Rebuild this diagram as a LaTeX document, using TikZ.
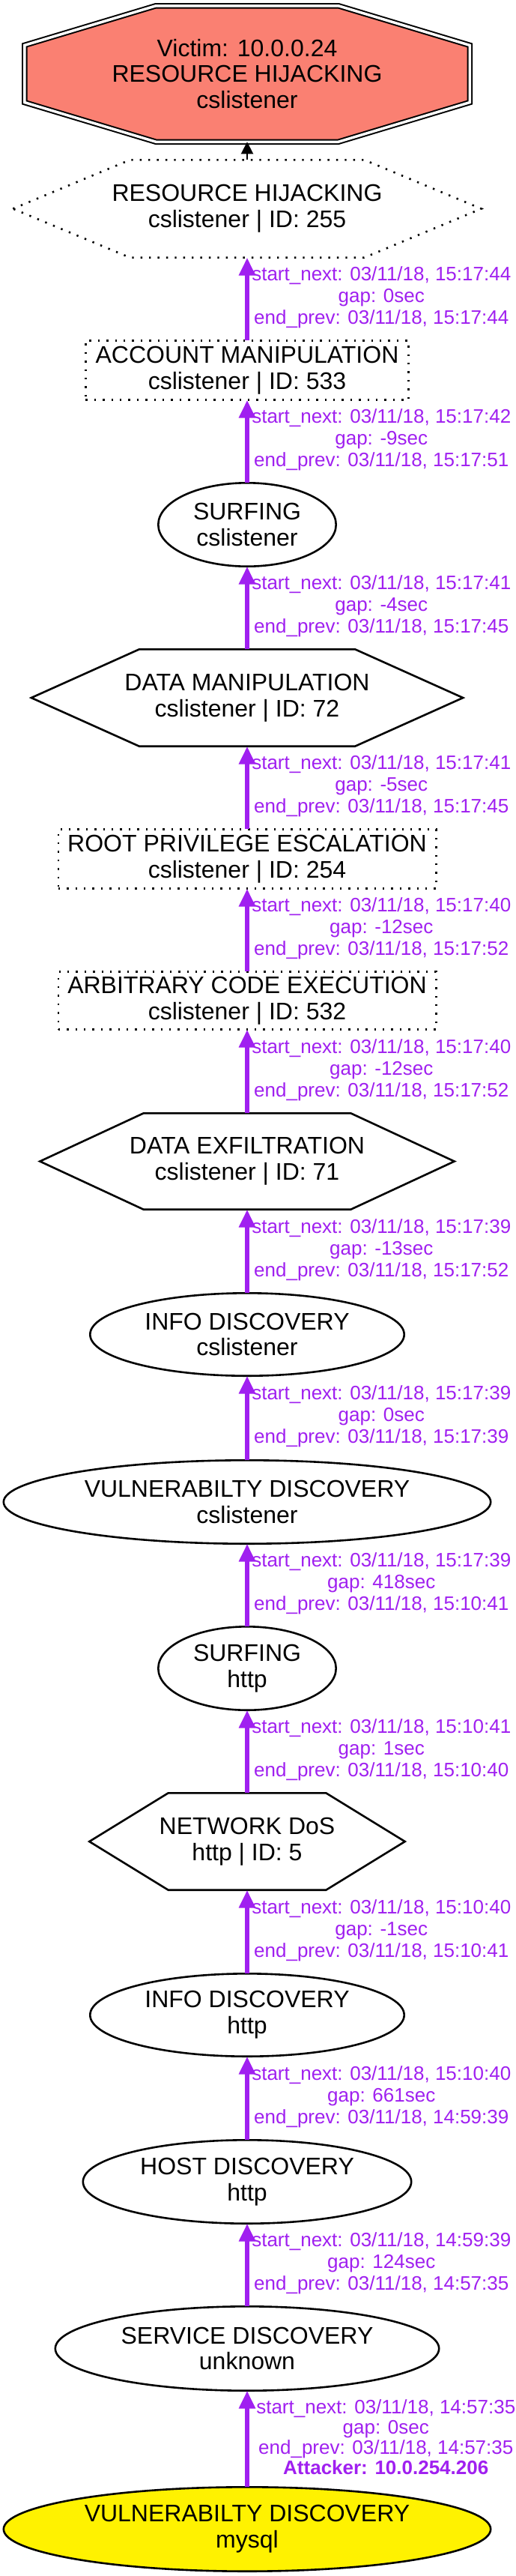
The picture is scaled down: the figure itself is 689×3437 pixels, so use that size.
\documentclass[tikz,border=0pt]{standalone}
\usepackage{fontspec}
\setmainfont{Liberation Sans}
\usetikzlibrary{shapes.geometric,arrows.meta,calc,backgrounds}
\definecolor{edgepurple}{HTML}{A020F0}
\definecolor{victimfill}{HTML}{FA8072}
\newcommand{\drawhexagon}[2][]{\draw[hexline,#1] (#2.west) -- ($(#2.north west)!0.25!(#2.north east)$) -- ($(#2.north west)!0.75!(#2.north east)$) -- (#2.east) -- ($(#2.south west)!0.75!(#2.south east)$) -- ($(#2.south west)!0.25!(#2.south east)$) -- cycle;}
\begin{document}
\begin{tikzpicture}[x=0.5pt,y=-0.5pt,
  base/.style={inner sep=0pt, outer sep=0pt, align=center, font=\fontsize{16}{17.4}\selectfont},
  ell/.style={base, ellipse, draw, line width=1.3pt},
  box/.style={base, rectangle, draw, line width=1.3pt, dash pattern=on 1.2pt off 4.5pt},
  hexnode/.style={base, rectangle},
  hexline/.style={line width=1.3pt, line join=miter},
  dotline/.style={dash pattern=on 1.2pt off 4.5pt},
  victimline/.style={fill=victimfill, draw=black, line width=1pt, double=white, double distance=1.75pt},
  pedge/.style={draw=edgepurple, line width=3.3pt, -{Triangle[length=12pt,width=10.5pt]}},
  bedge/.style={draw=black, line width=1pt, -{Triangle[length=8pt,width=8pt]}},
  elabel/.style={anchor=west, inner sep=0pt, xshift=1.5pt, yshift=1pt, align=center, text=edgepurple, font=\fontsize{13}{14.5}\selectfont},
  alabel/.style={elabel, xshift=3pt, font=\fontsize{13}{13.5}\selectfont},
]
\useasboundingbox (0,0) rectangle (689,3437);

% victim
\node[base, rectangle, minimum width=297.25pt, minimum height=90.75pt] (victim) at (330,98.5) {Victim: 10.0.0.24\\RESOURCE HIJACKING\\cslistener};
\begin{scope}[on background layer]
\fill[white] (0,0) rectangle (689,3437);
\draw[victimline] ($(victim.north west)!0.295!(victim.north east)$) -- ($(victim.north west)!0.705!(victim.north east)$) -- ($(victim.north east)!0.29!(victim.south east)$) -- ($(victim.north east)!0.71!(victim.south east)$) -- ($(victim.south west)!0.705!(victim.south east)$) -- ($(victim.south west)!0.295!(victim.south east)$) -- ($(victim.north west)!0.71!(victim.south west)$) -- ($(victim.north west)!0.29!(victim.south west)$) -- cycle;
\end{scope}

% nodes
\node[hexnode, minimum width=312.7pt, minimum height=65.2pt] (rh) at (330,278.5) {RESOURCE HIJACKING\\cslistener | ID: 255};
\drawhexagon[dotline]{rh}
\node[box, minimum width=215.7pt, minimum height=39.7pt] (am) at (330,494) {ACCOUNT MANIPULATION\\cslistener | ID: 533};
\node[ell, minimum width=118.7pt, minimum height=55.7pt] (surfcs) at (330,700) {SURFING\\cslistener};
\node[hexnode, minimum width=288.2pt, minimum height=64.7pt] (dm) at (330,931) {DATA MANIPULATION\\cslistener | ID: 72};
\drawhexagon{dm}
\node[box, minimum width=252.2pt, minimum height=39.7pt] (rpe) at (330,1146) {ROOT PRIVILEGE ESCALATION\\cslistener | ID: 254};
\node[box, minimum width=252.2pt, minimum height=38.7pt] (ace) at (330,1335) {ARBITRARY CODE EXECUTION\\cslistener | ID: 532};
\node[hexnode, minimum width=276.7pt, minimum height=64.2pt] (de) at (330,1549.5) {DATA EXFILTRATION\\cslistener | ID: 71};
\drawhexagon{de}
\node[ell, minimum width=209.7pt, minimum height=55.2pt] (idcs) at (330,1780.5) {INFO DISCOVERY\\cslistener};
\node[ell, minimum width=325.2pt, minimum height=55.7pt] (vdcs) at (330,2004) {VULNERABILTY DISCOVERY\\cslistener};
\node[ell, minimum width=118.7pt, minimum height=55.7pt] (surfh) at (330,2226) {SURFING\\http};
\node[hexnode, minimum width=210.7pt, minimum height=64.7pt] (ndos) at (330,2457) {NETWORK DoS\\http | ID: 5};
\drawhexagon{ndos}
\node[ell, minimum width=209.7pt, minimum height=55.2pt] (idh) at (330,2688.5) {INFO DISCOVERY\\http};
\node[ell, minimum width=219.2pt, minimum height=55.7pt] (hd) at (330,2911) {HOST DISCOVERY\\http};
\node[ell, minimum width=256.2pt, minimum height=56.2pt] (sd) at (330,3133.5) {SERVICE DISCOVERY\\unknown};
\node[ell, fill=yellow, minimum width=325.2pt, minimum height=56.2pt] (vdm) at (330,3374.5) {VULNERABILTY DISCOVERY\\mysql};

% edges
\draw[bedge] (rh.north) -- (victim.south);
\draw[pedge] (am.north) -- node[elabel] {start\_next: 03/11/18, 15:17:44\\gap: 0sec\\end\_prev: 03/11/18, 15:17:44} (rh.south);
\draw[pedge] (surfcs.north) -- node[elabel] {start\_next: 03/11/18, 15:17:42\\gap: -9sec\\end\_prev: 03/11/18, 15:17:51} (am.south);
\draw[pedge] (dm.north) -- node[elabel] {start\_next: 03/11/18, 15:17:41\\gap: -4sec\\end\_prev: 03/11/18, 15:17:45} (surfcs.south);
\draw[pedge] (rpe.north) -- node[elabel] {start\_next: 03/11/18, 15:17:41\\gap: -5sec\\end\_prev: 03/11/18, 15:17:45} (dm.south);
\draw[pedge] (ace.north) -- node[elabel] {start\_next: 03/11/18, 15:17:40\\gap: -12sec\\end\_prev: 03/11/18, 15:17:52} (rpe.south);
\draw[pedge] (de.north) -- node[elabel] {start\_next: 03/11/18, 15:17:40\\gap: -12sec\\end\_prev: 03/11/18, 15:17:52} (ace.south);
\draw[pedge] (idcs.north) -- node[elabel] {start\_next: 03/11/18, 15:17:39\\gap: -13sec\\end\_prev: 03/11/18, 15:17:52} (de.south);
\draw[pedge] (vdcs.north) -- node[elabel] {start\_next: 03/11/18, 15:17:39\\gap: 0sec\\end\_prev: 03/11/18, 15:17:39} (idcs.south);
\draw[pedge] (surfh.north) -- node[elabel] {start\_next: 03/11/18, 15:17:39\\gap: 418sec\\end\_prev: 03/11/18, 15:10:41} (vdcs.south);
\draw[pedge] (ndos.north) -- node[elabel] {start\_next: 03/11/18, 15:10:41\\gap: 1sec\\end\_prev: 03/11/18, 15:10:40} (surfh.south);
\draw[pedge] (idh.north) -- node[elabel] {start\_next: 03/11/18, 15:10:40\\gap: -1sec\\end\_prev: 03/11/18, 15:10:41} (ndos.south);
\draw[pedge] (hd.north) -- node[elabel] {start\_next: 03/11/18, 15:10:40\\gap: 661sec\\end\_prev: 03/11/18, 14:59:39} (idh.south);
\draw[pedge] (sd.north) -- node[elabel] {start\_next: 03/11/18, 14:59:39\\gap: 124sec\\end\_prev: 03/11/18, 14:57:35} (hd.south);
\draw[pedge] (vdm.north) -- node[alabel] {start\_next: 03/11/18, 14:57:35\\gap: 0sec\\end\_prev: 03/11/18, 14:57:35\\\textbf{Attacker: 10.0.254.206}} (sd.south);
\end{tikzpicture}
\end{document}
